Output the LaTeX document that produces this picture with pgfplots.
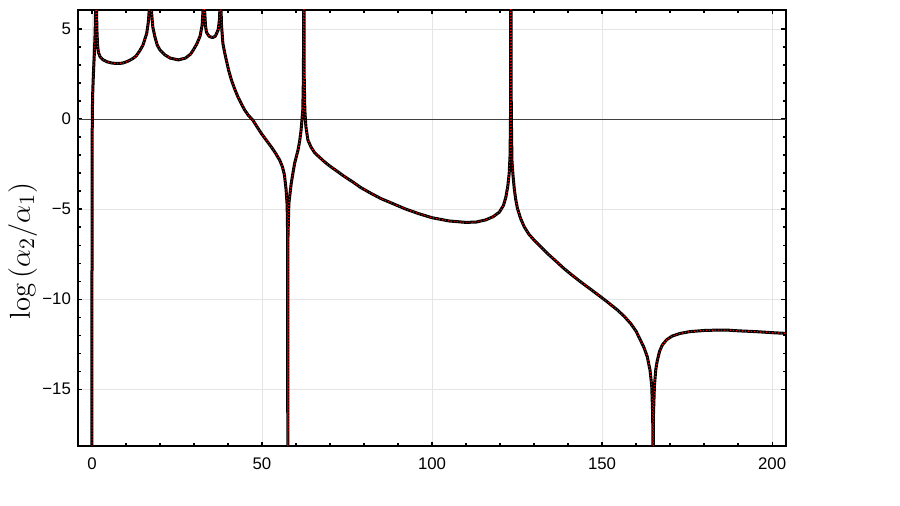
\documentclass[border=0pt]{standalone}
\usepackage[no-math]{fontspec}
\setmainfont{Liberation Sans}
\usepackage{pgfplots}
\pgfplotsset{compat=1.18}
\begin{document}
\pgfplotstableread{
x y
0.002 -25
0.01 -10
0.03 -5
0.06 -2
0.1 0
0.2 1.3
0.35 2.1
0.5 2.8
0.7 3.6
0.9 4.6
1.0 5.3
1.1 6.5
1.17 9
1.22 14
1.27 9
1.32 6.5
1.45 5
1.65 4.1
1.9 3.7
2.4 3.45
3.3 3.28
4.5 3.17
6 3.1
7.6 3.08
9 3.1
10.5 3.2
12 3.35
13 3.5
14.1 3.8
15 4.1
16.1 4.75
16.6 5.4
16.9 6.2
17.05 7.5
17.2 14
17.3 7.5
17.5 6.0
17.9 5.1
18.5 4.57
19.2 4.1
20 3.83
21.5 3.55
23 3.38
25.4 3.28
27.5 3.38
29 3.6
29.8 3.83
30.8 4.15
31.8 4.6
32.4 5.2
32.75 6.3
32.9 14
33.05 6.3
33.4 5.15
33.7 4.8
34.5 4.58
35.5 4.52
36.3 4.6
37.1 4.94
37.5 5.5
37.7 6.5
37.8 14
37.9 6.5
38.1 5.2
38.5 4.2
39.0 3.7
39.5 3.28
40.2 2.7
41.0 2.17
42.0 1.65
42.9 1.24
44.0 0.82
44.9 0.5
46.0 0.2
47.3 -0.06
48.5 -0.42
49.8 -0.8
51.2 -1.16
52.7 -1.54
54.0 -1.9
55.2 -2.28
56.0 -2.65
56.6 -3.1
57.1 -3.94
57.4 -4.8
57.55 -6.5
57.6 -25
57.65 -6.5
57.9 -4.7
58.6 -3.57
59.1 -3.0
59.6 -2.46
60.6 -1.72
61.1 -1.2
61.5 -0.61
62.0 0.5
62.2 2.5
62.3 14
62.4 2.5
62.6 0.5
62.9 -0.4
63.5 -1.17
64.4 -1.55
65.5 -1.88
66.9 -2.12
68.4 -2.38
70 -2.62
71.8 -2.86
74 -3.16
76.9 -3.52
79 -3.8
81.8 -4.1
85 -4.42
88.4 -4.69
92 -4.98
96 -5.25
100 -5.48
105 -5.66
110 -5.74
113 -5.72
115.8 -5.6
118 -5.42
119.8 -5.17
121 -4.8
121.7 -4.35
122.3 -3.7
122.7 -3.0
122.95 -2.0
123.1 0.5
123.2 14
123.3 0.5
123.5 -2.3
123.8 -3.1
124.2 -3.9
124.6 -4.45
125.1 -4.95
126 -5.5
127.1 -5.98
128.5 -6.4
130 -6.72
132 -7.1
133.9 -7.46
136.5 -7.9
138.8 -8.3
141.2 -8.67
143.7 -9.04
146.7 -9.46
149.6 -9.87
152 -10.22
154.5 -10.6
156.5 -10.95
158.4 -11.35
160 -11.78
161.3 -12.28
162.4 -12.72
163.3 -13.2
164.1 -13.94
164.6 -14.8
164.9 -16.5
165.0 -25
165.1 -16.5
165.4 -14.8
165.8 -13.9
166.2 -13.45
166.9 -12.9
167.7 -12.55
169 -12.25
170.6 -12.05
173 -11.9
175.9 -11.8
180 -11.74
183.4 -11.72
187 -11.72
190.2 -11.76
195 -11.8
200 -11.86
204 -11.9
}\datatable
\begin{tikzpicture}
\path (0,0) rectangle (450pt,253pt);
\begin{axis}[
  at={(39pt,30pt)}, anchor=south west,
  scale only axis, width=353.85pt, height=218pt,
  xmin=-4.1, xmax=204, ymin=-18.15, ymax=6.05,
  axis line style={line width=1pt, black},
  tick pos=both, tick align=inside,
  major tick length=2.2pt, minor tick length=1.3pt,
  tick style={black, line width=0.6pt},
  xtick={0,50,100,150,200}, xticklabels={0,50,100,150,200},
  ytick={-15,-10,-5,0,5}, yticklabels={−15,−10,−5,0,5},
  minor x tick num=4, minor y tick num=4,
  xticklabel pos=lower, yticklabel pos=left,
  ticklabel style={font=\fontsize{8.4}{10}\selectfont, black},
  xticklabel style={yshift=-2.6pt},
  grid=major, grid style={draw=black!10, line width=0.4pt},
  extra y ticks={0}, extra y tick labels={},
  extra y tick style={grid=major, major tick length=0pt, grid style={draw=black!75, line width=0.45pt}},
  every axis y label/.style={at={(axis description cs:-0.068,0.447)}, rotate=90, anchor=base},
  ylabel={\fontsize{15}{18}\selectfont $\log\left(\alpha_2/\alpha_1\right)$},
  clip=true,
]
\addplot[black, line width=1.5pt, line join=round] table[x=x,y=y] {\datatable};
\addplot[red, line width=0.6pt, dash pattern=on 0.5pt off 1pt] table[x=x,y=y] {\datatable};
\end{axis}
\end{tikzpicture}
\end{document}
